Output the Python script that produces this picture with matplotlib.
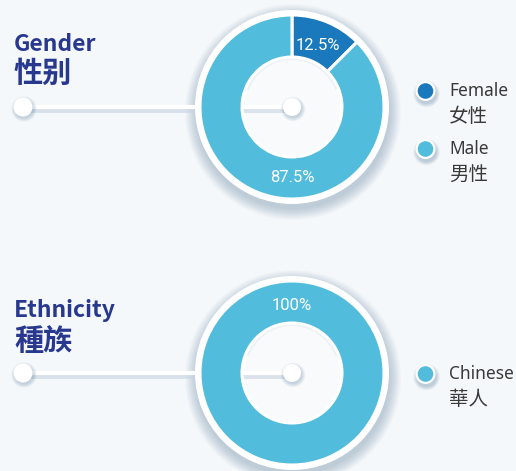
import numpy as np
import matplotlib.pyplot as plt
from matplotlib.patches import Circle, Wedge

# ---- data ----
gender_labels = ['Female', 'Male']
gender_labels_zh = ['女性', '男性']
gender_values = [12.5, 87.5]
gender_colors = ['#1a78bd', '#52bcdc']

ethnicity_labels = ['Chinese']
ethnicity_labels_zh = ['華人']
ethnicity_values = [100]
ethnicity_colors = ['#52bcdc']

# ---- layout (pixels, y measured from top) ----
W, H = 516, 471
CX = 292
R_OUT, R_IN, R_RING = 92, 50, 97
TITLE_COLOR = '#28388f'
TEXT_COLOR = '#3a3a3a'
BG = '#f5f8fa'
SHADOW = '#2b5b84'

sections = [
    dict(title='Gender', title_zh='性别', cy=107, title_base=51, zh_base=82,
         values=gender_values, colors=gender_colors, labels=gender_labels,
         labels_zh=gender_labels_zh, pct_angles=[68, -90], legend_y=[91, 149]),
    dict(title='Ethnicity', title_zh='種族', cy=373, title_base=317, zh_base=350,
         values=ethnicity_values, colors=ethnicity_colors, labels=ethnicity_labels,
         labels_zh=ethnicity_labels_zh, pct_angles=[90], legend_y=[374]),
]


def Y(y):
    return H - y


fig = plt.figure(figsize=(W / 100, H / 100), dpi=100)
fig.patch.set_facecolor(BG)
ax = fig.add_axes([0, 0, 1, 1])
ax.set_facecolor(BG)

title_font = ['Noto Sans CJK SC', 'DejaVu Sans']
latin = ['Noto Sans', 'Noto Sans CJK SC', 'DejaVu Sans']
cjk = ['Noto Sans CJK TC', 'Noto Sans CJK SC', 'DejaVu Sans']


def soft_shadow(x, y, r, n=10, step=1.0, alpha=0.025, dy=-4, z=1):
    for k in range(n):
        ax.add_patch(Circle((x + 1, y + dy), r + k * step, color=SHADOW,
                            alpha=alpha, lw=0, zorder=z))


for s in sections:
    cy = Y(s['cy'])

    # titles
    ax.text(14, Y(s['title_base']), s['title'], fontsize=16.5, fontweight='heavy',
            color=TITLE_COLOR, family=title_font, va='baseline', ha='left')
    ax.text(14, Y(s['zh_base']), s['title_zh'], fontsize=21, fontweight='heavy',
            color=TITLE_COLOR, family=title_font, va='baseline', ha='left')

    # donut shadow + hole background
    soft_shadow(CX, cy, R_RING, n=12, step=1.0, alpha=0.022, dy=-5)
    ax.add_patch(Circle((CX, cy), R_IN, color='#f8fafc', lw=0, zorder=1.5))
    ax.add_patch(Wedge((CX, cy + 1), R_IN, 20, 160, width=4, color=SHADOW,
                       alpha=0.05, lw=0, zorder=1.6))

    # connector line
    ax.plot([23, CX], [cy - 1.5, cy - 1.5], color='#c6d3df', lw=5, alpha=0.6,
            solid_capstyle='round', zorder=1.7)
    ax.plot([23, CX], [cy, cy], color='white', lw=3, solid_capstyle='round',
            zorder=2)
    soft_shadow(23, cy, 9.5, n=5, step=0.8, alpha=0.05, dy=-2, z=2.1)
    ax.add_patch(Circle((23, cy), 9.5, color='white', lw=0, zorder=2.2))

    # white outer ring + donut
    ax.add_patch(Wedge((CX, cy), R_RING, 0, 360, width=R_RING - R_OUT + 1,
                       color='white', lw=0, zorder=3))
    wedges, _ = ax.pie(s['values'], colors=s['colors'], radius=R_OUT,
                       center=(CX, cy), startangle=90, counterclock=False,
                       wedgeprops=dict(width=R_OUT - R_IN, edgecolor='white',
                                       linewidth=2.2), frame=False)
    for w in wedges:
        w.set_zorder(4)

    # center dot
    soft_shadow(CX, cy, 9, n=5, step=0.8, alpha=0.05, dy=-2, z=4.5)
    ax.add_patch(Circle((CX, cy), 9, color='white', lw=0, zorder=5))

    # percentage labels
    total = sum(s['values'])
    r_mid = 69
    for v, a in zip(s['values'], s['pct_angles']):
        t = np.deg2rad(a)
        ax.text(CX + r_mid * np.cos(t), cy + r_mid * np.sin(t) - 6.5,
                '{:g}%'.format(100 * v / total), color='white', fontsize=12,
                family=['Roboto', 'DejaVu Sans'],
                ha='center', va='baseline', zorder=6)

    # legend
    for lab, zh, col, ly in zip(s['labels'], s['labels_zh'], s['colors'],
                                s['legend_y']):
        my = Y(ly)
        soft_shadow(425.5, my, 10, n=5, step=0.8, alpha=0.06, dy=-3, z=6)
        ax.add_patch(Circle((425.5, my), 10, color='white', lw=0, zorder=6.5))
        ax.add_patch(Circle((425.5, my), 7.8, color=col, lw=0, zorder=7))
        ax.text(449, my - 5, lab, fontsize=12.5, color=TEXT_COLOR, family=latin,
                va='baseline', ha='left')
        ax.text(449, my - 31, zh, fontsize=14, color=TEXT_COLOR, family=cjk,
                va='baseline', ha='left')

ax.set_xlim(0, W)
ax.set_ylim(0, H)
ax.set_aspect('equal')
ax.axis('off')

fig.savefig('out.png', dpi=100, facecolor=BG)
